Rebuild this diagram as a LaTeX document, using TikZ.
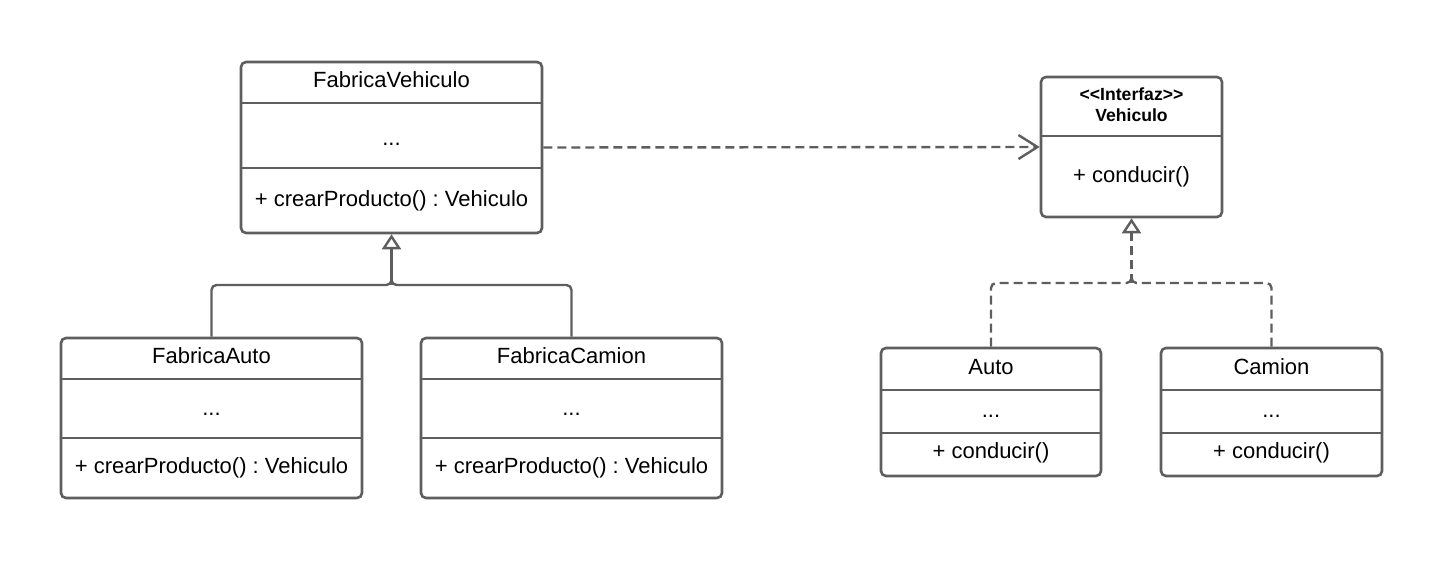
\documentclass[tikz,border=0pt]{standalone}
\usepackage{fontspec}
\setmainfont{Liberation Sans}
\usepackage{tikz}
\usetikzlibrary{arrows.meta}
\definecolor{gris}{HTML}{5E5E5E}
\frenchspacing

\tikzset{
    clase/.style={draw=gris, line width=1.3pt, rounded corners=2.5pt, inner sep=0pt},
    divisor/.style={draw=gris, line width=1.3pt},
    txt/.style={anchor=base, inner sep=0pt, font=\fontsize{11}{13}\selectfont},
    txtb/.style={anchor=base, inner sep=0pt, font=\fontsize{8.8}{10}\selectfont\bfseries},
    rama/.style={draw=gris, line width=1.2pt, rounded corners=2.5pt},
    hereda/.style={rama, -{Triangle[open, length=7.5pt, width=9.5pt, fill=white]}},
    punteada/.style={dash pattern=on 4.5pt off 2.5pt},
    depende/.style={draw=gris, line width=1.2pt, punteada, -{Straight Barb[length=9.5pt, width=12pt, line width=1.2pt]}}
}

\begin{document}
\begin{tikzpicture}[x=0.5pt, y=-0.5pt]
    \useasboundingbox (0,0) rectangle (1430,573);

    % Fabricas
    \node[clase, minimum width=150.5pt, minimum height=85.5pt] (fv) at (391.5,147.5) {};
    \draw[divisor] (241,103) -- (542,103);
    \draw[divisor] (241,168) -- (542,168);
    \node[txt] (fv-nombre) at (391.5,87) {FabricaVehiculo};
    \node[txt] (fv-attr) at (391.5,145) {...};
    \node[txt] (fv-metodo) at (391.5,206) {+ crearProducto() : Vehiculo};

    \node[clase, minimum width=150.5pt, minimum height=80pt] (fa) at (211.5,418) {};
    \draw[divisor] (61,379) -- (362,379);
    \draw[divisor] (61,438) -- (362,438);
    \node[txt] (fa-nombre) at (211.5,363) {FabricaAuto};
    \node[txt] (fa-attr) at (211.5,415) {...};
    \node[txt] (fa-metodo) at (211.5,473) {+ crearProducto() : Vehiculo};

    \node[clase, minimum width=150.5pt, minimum height=80pt] (fc) at (571.5,418) {};
    \draw[divisor] (421,379) -- (722,379);
    \draw[divisor] (421,438) -- (722,438);
    \node[txt] (fc-nombre) at (571.5,363) {FabricaCamion};
    \node[txt] (fc-attr) at (571.5,415) {...};
    \node[txt] (fc-metodo) at (571.5,473) {+ crearProducto() : Vehiculo};

    % Interfaz y productos
    \node[clase, minimum width=90.5pt, minimum height=70pt] (iv) at (1131.5,147) {};
    \draw[divisor] (1041,136) -- (1222,136);
    \node[txtb] (iv-estereotipo) at (1131.5,100) {{<}{<}Interfaz{>}{>}};
    \node[txtb] (iv-nombre) at (1131.5,121) {Vehiculo};
    \node[txt] (iv-metodo) at (1131.5,182) {+ conducir()};

    \node[clase, minimum width=110pt, minimum height=64pt] (auto) at (991,412) {};
    \draw[divisor] (881,390) -- (1101,390);
    \draw[divisor] (881,433) -- (1101,433);
    \node[txt] (auto-nombre) at (991,374) {Auto};
    \node[txt] (auto-attr) at (991,417) {...};
    \node[txt] (auto-metodo) at (991,458) {+ conducir()};

    \node[clase, minimum width=110.5pt, minimum height=64pt] (camion) at (1271.5,412) {};
    \draw[divisor] (1161,390) -- (1382,390);
    \draw[divisor] (1161,433) -- (1382,433);
    \node[txt] (camion-nombre) at (1271.5,374) {Camion};
    \node[txt] (camion-attr) at (1271.5,417) {...};
    \node[txt] (camion-metodo) at (1271.5,458) {+ conducir()};

    % Relaciones
    \coordinate (jfab) at (391.5,285);
    \draw[rama] (fa.north) |- (jfab) -- ++(0,-6);
    \draw[rama] (fc.north) |- (jfab) -- ++(0,-6);
    \draw[hereda] (jfab) -- (fv.south);

    \coordinate (jveh) at (1131.5,283);
    \draw[rama, punteada] (auto.north) |- (jveh) -- ++(0,-6);
    \draw[rama, punteada] (camion.north) |- (jveh) -- ++(0,-6);
    \draw[hereda, punteada] (jveh) -- (iv.south);

    \draw[depende] (fv.east) -- (iv.west);
\end{tikzpicture}
\end{document}
